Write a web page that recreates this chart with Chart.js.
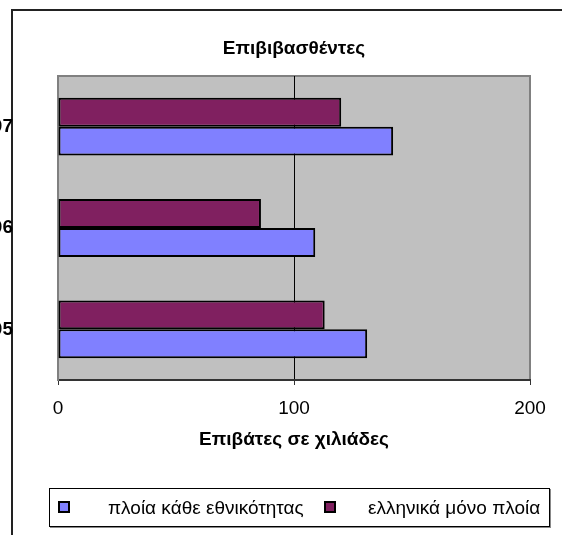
<!DOCTYPE html>
<html>
<head>
<meta charset="utf-8">
<script src="https://cdn.jsdelivr.net/npm/chart.js@4/dist/chart.umd.min.js"></script>
<style>
  html, body { margin: 0; padding: 0; background: #fff; overflow: hidden; width: 562px; height: 535px; }
  #frame { position: absolute; left: 11px; top: 9px; width: 1000px; height: 1000px; border-left: 2px solid #222; border-top: 2px solid #222; }
  #wrap { position: absolute; left: 0; top: 0; width: 588px; height: 535px; }
  #legend { position: absolute; left: 49px; top: 488px; width: 499px; height: 37px; border: 1px solid #000; box-shadow: 1px 1px 0 #888; background: #fff;
            font-family: Arial, "Liberation Sans", sans-serif; font-size: 19px; color: #000; }
  .item { position: absolute; top: 0; height: 37px; line-height: 37px; white-space: nowrap; }
  .sw { position: absolute; width: 8px; height: 8px; border: 2px solid #000; top: 12px; }
</style>
</head>
<body>
<div id="frame"></div>
<div id="wrap"><canvas id="chartPassengers"></canvas></div>
<div id="legend"></div>
<script>
var years = ['2005', '2006', '2007'];
var allShips = [131, 109, 142];
var greekShips = [113, 86, 120];
var seriesNames = ['πλοία κάθε εθνικότητας', 'ελληνικά μόνο πλοία'];
var seriesColors = ['#8080FF', '#802060'];
var xTicks = [0, 100, 200];

Chart.defaults.font.family = 'Arial, "Liberation Sans", sans-serif';
Chart.defaults.color = '#000';

// grey plot area like the old office charts
var plotBack = {
    id: 'plotBack',
    beforeDraw: function(chart) {
        var a = chart.chartArea, ctx = chart.ctx;
        ctx.save();
        ctx.fillStyle = '#c0c0c0';
        ctx.fillRect(a.left, a.top, a.right - a.left, a.bottom - a.top);
        ctx.strokeStyle = '#808080';
        ctx.lineWidth = 2;
        ctx.beginPath();
        ctx.moveTo(a.left, a.top);
        ctx.lineTo(a.right, a.top);
        ctx.lineTo(a.right, a.bottom);
        ctx.stroke();
        ctx.restore();
    }
};

function makeChart() {
    var ctx = document.getElementById('chartPassengers').getContext('2d');
    var chart = new Chart(ctx, {
        type: 'bar',
        data: {
            labels: years,
            datasets: [{
                label: seriesNames[1],
                data: greekShips,
                backgroundColor: seriesColors[1],
                borderColor: '#000',
                borderWidth: 2,
                borderSkipped: false
            }, {
                label: seriesNames[0],
                data: allShips,
                backgroundColor: seriesColors[0],
                borderColor: '#000',
                borderWidth: 2,
                borderSkipped: false
            }]
        },
        options: {
            indexAxis: 'y',
            responsive: false,
            animation: false,
            devicePixelRatio: 1,
            categoryPercentage: 1 / 1.75,
            barPercentage: 1,
            layout: { padding: { left: 0, right: 0, top: 0, bottom: 75 } },
            plugins: {
                legend: { display: false },
                tooltip: { enabled: false },
                title: {
                    display: true,
                    text: 'Επιβιβασθέντες',
                    font: { size: 19, weight: 'bold' },
                    padding: { top: 37.6, bottom: 15.6 }
                }
            },
            scales: {
                x: {
                    min: xTicks[0],
                    max: xTicks[xTicks.length - 1],
                    afterBuildTicks: function(scale) {
                        scale.ticks = xTicks.map(function(v) { return { value: v }; });
                    },
                    afterFit: function(scale) {
                        scale.height = 80;
                        scale.paddingRight = 58;
                    },
                    ticks: { font: { size: 19 }, padding: 12, maxRotation: 0 },
                    grid: {
                        color: function(c) { return c.tick && c.tick.value === 100 ? '#000' : 'rgba(0,0,0,0)'; },
                        tickColor: '#333',
                        tickLength: 5,
                        lineWidth: 1
                    },
                    border: { display: true, color: '#333', width: 2 },
                    title: {
                        display: true,
                        text: 'Επιβάτες σε χιλιάδες',
                        font: { size: 19, weight: 'bold' },
                        padding: { top: 0, bottom: 8.6 }
                    }
                },
                y: {
                    reverse: true,
                    afterFit: function(scale) { scale.width = 58; },
                    ticks: { font: { size: 19, weight: 'bold' }, padding: 45 },
                    grid: { display: false, drawTicks: false },
                    border: { display: true, color: '#808080', width: 2 }
                }
            }
        },
        plugins: [plotBack]
    });
    return chart;
}

function makeLegend() {
    var legend = document.getElementById('legend');
    var swX = [8, 274];
    var textX = [58, 318];
    for (var i = 0; i < seriesNames.length; i++) {
        var sw = document.createElement('div');
        sw.className = 'sw';
        sw.style.left = swX[i] + 'px';
        sw.style.background = seriesColors[i];
        legend.appendChild(sw);
        var t = document.createElement('div');
        t.className = 'item';
        t.style.left = textX[i] + 'px';
        t.textContent = seriesNames[i];
        legend.appendChild(t);
    }
}

var canvas = document.getElementById('chartPassengers');
canvas.width = 588;
canvas.height = 535;
canvas.style.width = '588px';
canvas.style.height = '535px';
makeChart();
makeLegend();
</script>
</body>
</html>
